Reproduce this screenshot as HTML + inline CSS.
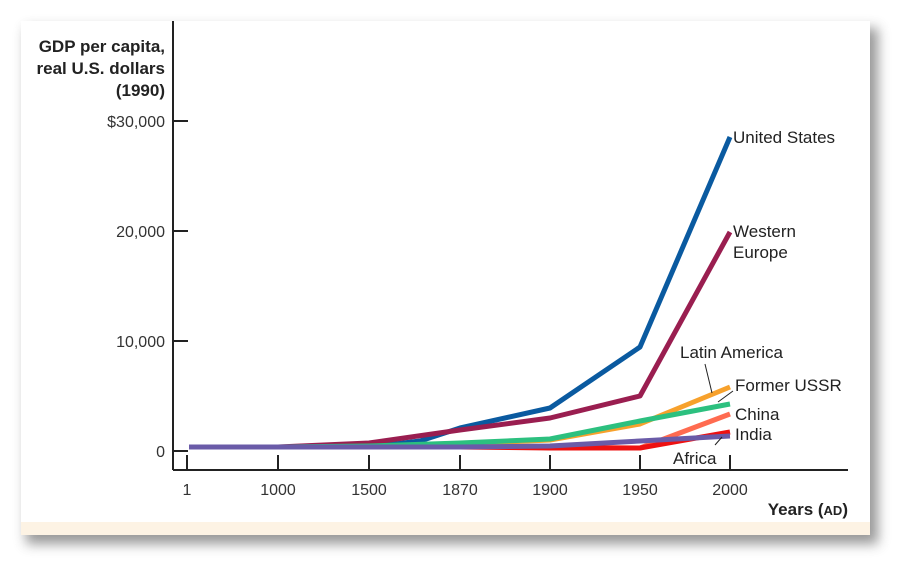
<!DOCTYPE html>
<html><head><style>
body{margin:0;width:913px;height:577px;background:#fff;overflow:hidden}
</style></head><body>
<svg width="913" height="577" xmlns="http://www.w3.org/2000/svg" font-family="Liberation Sans, sans-serif">
<defs><filter id="sh" x="-5%" y="-5%" width="115%" height="120%"><feGaussianBlur stdDeviation="6"/></filter></defs>
<rect x="26" y="28" width="852" height="516" fill="#555" opacity="0.6" filter="url(#sh)"/>
<rect x="21" y="21" width="849" height="514" fill="#fff"/>
<rect x="21" y="522" width="849" height="13" fill="#fdf3e4"/>
<g stroke="#222" stroke-width="2" fill="none">
<line x1="173" y1="21" x2="173" y2="470"/>
<line x1="173" y1="470" x2="848" y2="470"/>
<line x1="173" y1="121" x2="188" y2="121"/>
<line x1="173" y1="231" x2="188" y2="231"/>
<line x1="173" y1="341" x2="188" y2="341"/>
<line x1="173" y1="451" x2="188" y2="451"/>
<path d="M187 455V470M278 455V470M369 455V470M460 455V470M550 455V470M640 455V470M730 455V470"/>
</g>
<g stroke-width="5" fill="none" stroke-linejoin="round">
<polyline stroke="#0a5aa0" points="189,447 278,447 369,447 420,441 460,428 550,408 640,347 730,137"/>
<polyline stroke="#9a1e50" points="189,447 278,447 369,443 460,430 550,418 640,396 730,232"/>
<polyline stroke="#f7a12c" points="189,447 278,447 369,447 460,444 550,440 640,424 730,387"/>
<polyline stroke="#2cc07f" points="189,447 278,447 369,446 460,443 550,439 640,421 730,404"/>
<polyline stroke="#ff6b50" points="189,447 278,447 369,447 460,447 550,447 640,448 730,414"/>
<polyline stroke="#ee1111" points="189,447 278,447 369,447 460,447 550,448 640,448 730,432"/>
<polyline stroke="#6a5ba8" points="189,447 278,447 369,447 460,447 550,446 640,441 730,436"/>
</g>
<g stroke="#222" stroke-width="1">
<line x1="705" y1="364" x2="712" y2="393"/>
<line x1="718" y1="402" x2="733" y2="391"/>
<line x1="715" y1="445" x2="722" y2="437"/>
</g>
<g font-size="16" fill="#222">
<text x="165" y="52" text-anchor="end" font-size="17" font-weight="bold">GDP per capita,</text>
<text x="165" y="74" text-anchor="end" font-size="17" font-weight="bold">real U.S. dollars</text>
<text x="165" y="96" text-anchor="end" font-size="17" font-weight="bold">(1990)</text>
<text x="165" y="127" text-anchor="end" fill="#333">$30,000</text>
<text x="165" y="237" text-anchor="end" fill="#333">20,000</text>
<text x="165" y="347" text-anchor="end" fill="#333">10,000</text>
<text x="165" y="457" text-anchor="end" fill="#333">0</text>
<g text-anchor="middle" fill="#333">
<text x="187" y="495">1</text><text x="278" y="495">1000</text><text x="369" y="495">1500</text>
<text x="460" y="495">1870</text><text x="550" y="495">1900</text><text x="640" y="495">1950</text><text x="730" y="495">2000</text>
</g>
<text x="848" y="515" text-anchor="end" font-size="17" font-weight="bold">Years (<tspan font-size="13">AD</tspan>)</text>
<text x="733" y="143" font-size="17">United States</text>
<text x="733" y="237" font-size="17">Western</text>
<text x="733" y="258" font-size="17">Europe</text>
<text x="680" y="358" font-size="17">Latin America</text>
<text x="735" y="391" font-size="17">Former USSR</text>
<text x="735" y="420" font-size="17">China</text>
<text x="735" y="440" font-size="17">India</text>
<text x="673" y="464" font-size="17">Africa</text>
</g>
</svg>
</body></html>
